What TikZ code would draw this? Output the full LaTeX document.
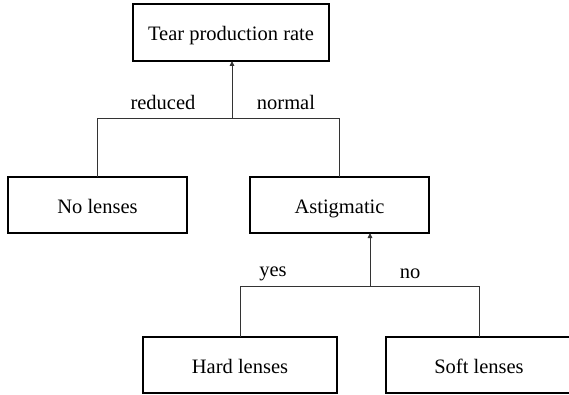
\documentclass[tikz,border=0pt]{standalone}
\usepackage{fontspec}
\setmainfont{Liberation Serif}
\usetikzlibrary{arrows.meta}
\begin{document}
\begin{tikzpicture}[x=1pt,y=-1pt,
  box/.style={draw=black,line width=1.6pt,inner sep=0pt,outer sep=0pt,
    font=\fontsize{20.5}{24}\selectfont,text height=20pt,text depth=4pt,anchor=center},
  conn/.style={draw=black!80,line width=0.9pt},
  arr/.style={conn,-{Triangle[length=5pt,width=4.5pt]}},
  lbl/.style={font=\fontsize{20.5}{24}\selectfont,inner sep=0pt,anchor=base}]
\useasboundingbox[fill=white] (0,0) rectangle (569,395);
\node[box,minimum width=196pt,minimum height=57pt] (tp) at (231,32.5) {Tear production rate};
\node[box,minimum width=179pt,minimum height=56pt] (nl) at (97.5,205) {No lenses};
\node[box,minimum width=179pt,minimum height=56pt] (as) at (339.5,205) {Astigmatic};
\node[box,minimum width=194pt,minimum height=56pt] (hl) at (240,365) {Hard lenses};
\node[box,minimum width=186pt,minimum height=56pt] (sl) at (479,365) {Soft lenses};
\coordinate (j1) at (232,118);
\coordinate (j2) at (370,286);
\draw[conn] (nl.north) |- (j1);
\draw[conn] (as.north) |- (j1);
\draw[arr] (j1) -- (j1 |- tp.south);
\draw[conn] (hl.north) |- (j2);
\draw[conn] (sl.north) |- (j2);
\draw[arr] (j2) -- (j2 |- as.south);
\node[lbl] (lr) at (163,110) {reduced};
\node[lbl] (ln) at (286,110) {normal};
\node[lbl] (ly) at (273,276) {yes};
\node[lbl] (lno) at (410,278) {no};
\end{tikzpicture}
\end{document}
